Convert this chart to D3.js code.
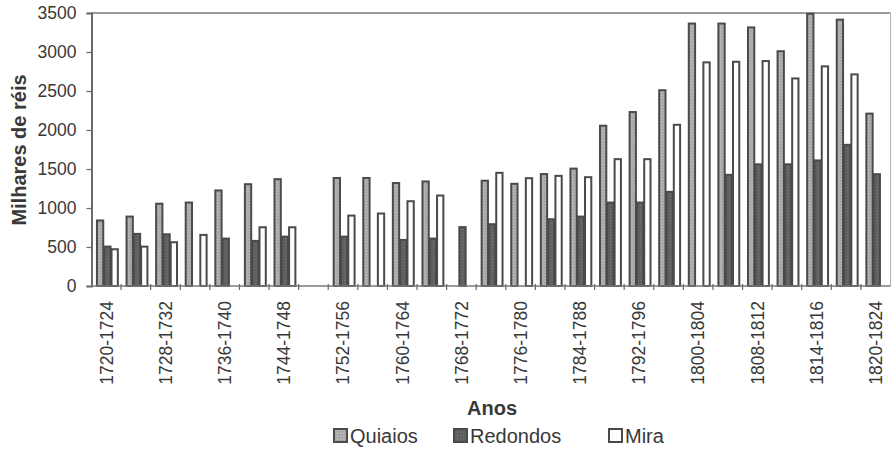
<!DOCTYPE html>
<html>
<head>
<meta charset="utf-8">
<script src="https://cdn.jsdelivr.net/npm/d3@7/dist/d3.min.js"></script>
<style>
  html, body { margin: 0; padding: 0; background: #ffffff; }
  svg { display: block; font-family: "Liberation Sans", Arial, Helvetica, sans-serif; }
</style>
</head>
<body>
<svg id="chart" width="892" height="457"></svg>
<script>
// ---- data ----
const categories = [
  "1720-1724","1724-1728","1728-1732","1732-1736","1736-1740","1740-1744",
  "1744-1748","1748-1752","1752-1756","1756-1760","1760-1764","1764-1768",
  "1768-1772","1772-1776","1776-1780","1780-1784","1784-1788","1788-1792",
  "1792-1796","1796-1800","1800-1804","1804-1808","1808-1812","1812-1814",
  "1814-1816","1816-1820","1820-1824"
];
const seriesNames = ["Quiaios", "Redondos", "Mira"];
const quiaios = [840, 890, 1055, 1070, 1225, 1305, 1370, null, 1385, 1385, 1320, 1340,
  null, 1350, 1310, 1435, 1505, 2055, 2230, 2510, 3365, 3365, 3315, 3010, 3490, 3415, 2210];
const redondos = [505, 668, 663, null, 608, 578, 633, null, 633, null, 590, 608,
  755, 792, null, 856, 890, 1070, 1070, 1207, null, 1425, 1560, 1560, 1610, 1810, 1433];
const mira = [471, 505, 561, 655, null, 753, 753, null, 903, 929, 1087, 1160,
  null, 1451, 1382, 1412, 1395, 1626, 1626, 2067, 2867, 2875, 2884, 2661, 2816, 2713, null];
const yTicks = [0, 500, 1000, 1500, 2000, 2500, 3000, 3500];
const yLabel = "Milhares de réis";
const xLabel = "Anos";

// ---- layout ----
const svg = d3.select("#chart");
const mLeft = 91.5, mRight = 890.5, mTop = 13, mBottom = 286;
const ink = "#383838";
const barStroke = "#4a4a4a";
const fills = { "Quiaios": "url(#pQ)", "Redondos": "url(#pR)", "Mira": "#ffffff" };

// stipple patterns for the scanned look
const defs = svg.append("defs");
const pQ = defs.append("pattern").attr("id", "pQ").attr("width", 3).attr("height", 3)
  .attr("patternUnits", "userSpaceOnUse");
pQ.append("rect").attr("width", 3).attr("height", 3).attr("fill", "#b4b4b4");
pQ.append("rect").attr("x", 0).attr("y", 0).attr("width", 1).attr("height", 1).attr("fill", "#8e8e8e");
pQ.append("rect").attr("x", 2).attr("y", 1).attr("width", 1).attr("height", 1).attr("fill", "#9a9a9a");
const pR = defs.append("pattern").attr("id", "pR").attr("width", 3).attr("height", 3)
  .attr("patternUnits", "userSpaceOnUse");
pR.append("rect").attr("width", 3).attr("height", 3).attr("fill", "#5f5f5f");
pR.append("rect").attr("x", 1).attr("y", 1).attr("width", 1).attr("height", 1).attr("fill", "#7a7a7a");

const x = d3.scaleBand().domain(categories).range([mLeft, mRight]).paddingInner(0).paddingOuter(0);
const xs = d3.scaleBand().domain(seriesNames)
  .range([x.bandwidth() * 0.15, x.bandwidth() * 0.89]).padding(0);
const y = d3.scaleLinear().domain([0, 3500]).range([mBottom, mTop]);

const seriesData = { "Quiaios": quiaios, "Redondos": redondos, "Mira": mira };

// frame: top and right border
svg.append("line").attr("x1", mLeft).attr("x2", mRight).attr("y1", y(3500)).attr("y2", y(3500))
  .attr("stroke", "#9a9a9a").attr("stroke-width", 2);
svg.append("line").attr("x1", mRight).attr("x2", mRight).attr("y1", y(3500)).attr("y2", y(0))
  .attr("stroke", "#b0b0b0").attr("stroke-width", 1);

// bars
const groups = svg.append("g").selectAll("g").data(categories).join("g")
  .attr("transform", d => `translate(${x(d)},0)`);
groups.selectAll("rect")
  .data((c, i) => seriesNames.map(s => ({ s, v: seriesData[s][i] })).filter(d => d.v != null))
  .join("rect")
  .attr("x", d => xs(d.s) + 1)
  .attr("width", xs.bandwidth() - 1)
  .attr("y", d => y(d.v))
  .attr("height", d => y(0) - y(d.v))
  .attr("fill", d => fills[d.s])
  .attr("stroke", barStroke)
  .attr("stroke-width", 2);

// y axis
const yAxis = svg.append("g").attr("transform", `translate(${mLeft},0)`)
  .call(d3.axisLeft(y).tickValues(yTicks).tickSize(5).tickPadding(10).tickFormat(d3.format("d")));
yAxis.select(".domain").attr("stroke", "#6a6a6a").attr("stroke-width", 2);
yAxis.selectAll(".tick line").attr("stroke", "#6a6a6a").attr("stroke-width", 1.2);
yAxis.selectAll("text").attr("fill", ink).style("font-size", "17.5px");

// x axis: baseline + boundary ticks
svg.append("line").attr("x1", mLeft).attr("x2", mRight).attr("y1", y(0)).attr("y2", y(0))
  .attr("stroke", "#7a7a7a").attr("stroke-width", 1.5);
const bounds = categories.map(c => x(c)).concat([x(categories[categories.length - 1]) + x.bandwidth()]);
svg.append("g").selectAll("line").data(bounds.slice(1, -1)).join("line")
  .attr("x1", d => d).attr("x2", d => d)
  .attr("y1", y(0) - 2).attr("y2", y(0) + 4)
  .attr("stroke", "#6a6a6a").attr("stroke-width", 1.2);

// x labels every other category
const labelCats = categories.filter((c, i) => i % 2 === 0);
const xAxis = svg.append("g").attr("transform", `translate(0,${y(0)})`)
  .call(d3.axisBottom(x).tickValues(labelCats).tickSize(0).tickPadding(0));
xAxis.select(".domain").remove();
xAxis.selectAll("text")
  .attr("fill", ink)
  .style("font-size", "17.5px")
  .attr("text-anchor", "end")
  .attr("transform", "translate(0,15) rotate(-90)")
  .attr("x", 0).attr("y", 0).attr("dy", "0.36em");

// axis titles
svg.append("text").attr("transform", "translate(26,150) rotate(-90)")
  .attr("text-anchor", "middle").attr("fill", ink)
  .style("font-size", "20px").style("font-weight", "bold").text(yLabel);
svg.append("text").attr("x", (mLeft + mRight) / 2 + 1).attr("y", 415)
  .attr("text-anchor", "middle").attr("fill", ink)
  .style("font-size", "20px").style("font-weight", "bold").text(xLabel);

// legend
const legendX = [333, 453, 608];
const lg = svg.append("g").selectAll("g").data(seriesNames).join("g")
  .attr("transform", (d, i) => `translate(${legendX[i]},428)`);
lg.append("rect").attr("x", 1).attr("y", 1).attr("width", 13).attr("height", 13)
  .attr("fill", d => fills[d]).attr("stroke", barStroke).attr("stroke-width", 2);
lg.append("text").attr("x", 17).attr("y", 15).attr("fill", ink)
  .style("font-size", "20px").text(d => d);
</script>
</body>
</html>
